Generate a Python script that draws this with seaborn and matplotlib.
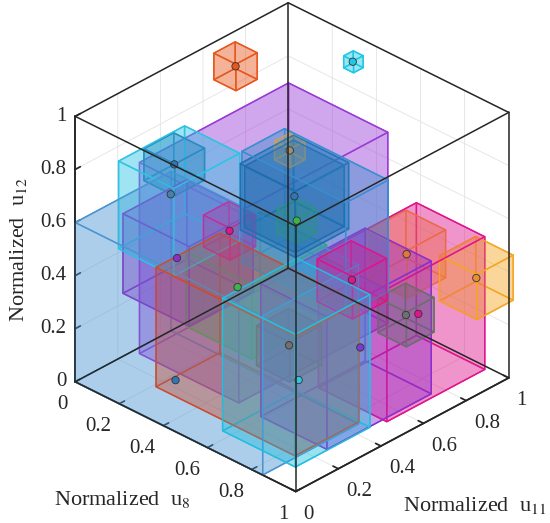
import matplotlib
matplotlib.use('Agg')
import matplotlib.pyplot as plt
import seaborn as sns
from mpl_toolkits.mplot3d.art3d import Poly3DCollection

# Box bounds (normalized u8, u11, u12)
box_x0 = [0.03, 0.35, 0.07, 0.10, 0.05, 0.12, 0.27, 0.26, 0.525, 0.43, 0.42, 0.455, 0.35, 0.37, 0.00, 0.62, 0.60, 0.62, 0.74, 0.64, 0.855, 0.855, 0.605]
box_x1 = [0.13, 0.395, 0.21, 0.35, 0.50, 0.42, 0.90, 0.56, 0.615, 0.66, 0.67, 0.525, 0.47, 0.84, 0.85, 0.95, 0.90, 0.93, 0.90, 0.82, 1.025, 0.985, 0.755]
box_y0 = [0.62, 0.898, 0.25, 0.10, 0.25, 0.10, 0.10, 0.25, 0.405, 0.35, 0.34, 0.465, 0.24, 0.40, 0.00, 0.05, 0.25, 0.50, 0.37, 0.71, 0.825, 0.535, 0.225]
box_y1 = [0.72, 0.943, 0.39, 0.41, 0.95, 0.40, 0.40, 0.60, 0.495, 0.58, 0.59, 0.535, 0.36, 0.60, 0.45, 0.40, 0.74, 0.96, 0.53, 0.89, 0.995, 0.665, 0.375]
box_z0 = [0.885, 0.943, 0.68, 0.50, 0.02, 0.34, 0.05, 0.21, 0.605, 0.61, 0.60, 0.825, 0.55, 0.43, 0.00, 0.05, 0.01, 0.02, 0.45, 0.35, 0.305, 0.31, 0.215]
box_z1 = [0.985, 0.988, 0.80, 0.83, 0.74, 0.64, 0.50, 0.49, 0.695, 0.84, 0.85, 0.895, 0.67, 0.85, 0.60, 0.55, 0.51, 0.52, 0.61, 0.53, 0.475, 0.44, 0.365]
box_colors = ['#e8561c', '#1ec8e6', '#2a78b8', '#2ec4e4', '#9a3bd6', '#8a2fc8', '#d24a2a', '#3cb44b',
              '#3cb44b', '#1f6fb0', '#1f6fb0', '#f2a93b', '#e0148c', '#3a8fd0', '#4a95d2', '#22c0e0',
              '#8a2fd0', '#e0148c', '#e0148c', '#f08a3a', '#f5a623', '#6e6e6e', '#6e6e6e']

# Centre points
pt_x = [0.08, 0.37, 0.14, 0.24, 0.22, 0.41, 0.49, 0.545, 0.57, 0.35, 0.31, 0.82, 0.73, 0.94, 0.92, 0.88, 0.81, 0.68, 0.82]
pt_y = [0.67, 0.92, 0.32, 0.20, 0.25, 0.30, 0.50, 0.465, 0.45, 0.40, 0.15, 0.45, 0.80, 0.91, 0.60, 0.70, 0.50, 0.30, 0.20]
pt_z = [0.935, 0.965, 0.74, 0.72, 0.45, 0.61, 0.86, 0.725, 0.65, 0.33, 0.07, 0.53, 0.44, 0.39, 0.375, 0.32, 0.25, 0.29, 0.26]
pt_colors = ['#e8561c', '#1ec8e6', '#2a78b8', '#4a7fa8', '#8a2fc8', '#e0148c', '#a09070', '#2a78b8', '#3cb44b',
             '#3cb44b', '#2a78b8', '#e0148c', '#e07a3a', '#e8902a', '#707070', '#e0148c', '#7a3ad0', '#707070', '#2ec4e4']

ticks = [0, 0.2, 0.4, 0.6, 0.8, 1]
tick_labels = ['0', '0.2', '0.4', '0.6', '0.8', '1']

sns.set_theme(style='white')
plt.rcParams['font.family'] = ['Liberation Serif', 'DejaVu Serif']
plt.rcParams['mathtext.fontset'] = 'stix'

fig = plt.figure(figsize=(5.5, 5.23), dpi=100)
ax = fig.add_axes([0.018, 0.014, 1, 1], projection='3d')
ax.set_proj_type('ortho')
ax.view_init(elev=31, azim=-46)
ax.set_box_aspect((1, 1, 1.01), zoom=0.989)
ax.computed_zorder = False

faces, fcols, ecols = [], [], []
for x0, x1, y0, y1, z0, z1, c in zip(box_x0, box_x1, box_y0, box_y1, box_z0, box_z1, box_colors):
    v = [(x0, y0, z0), (x1, y0, z0), (x1, y1, z0), (x0, y1, z0),
         (x0, y0, z1), (x1, y0, z1), (x1, y1, z1), (x0, y1, z1)]
    for idx in [(0, 1, 2, 3), (4, 5, 6, 7), (0, 1, 5, 4), (1, 2, 6, 5), (2, 3, 7, 6), (3, 0, 4, 7)]:
        faces.append([v[i] for i in idx])
        fcols.append(matplotlib.colors.to_rgba(c, 0.26))
        ecols.append(matplotlib.colors.to_rgba(c, 0.95))
poly = Poly3DCollection(faces, facecolors=fcols, edgecolors=ecols, linewidths=1.0, zorder=1)
ax.add_collection3d(poly)

ax.scatter(pt_x, pt_y, pt_z, c=pt_colors, s=28, edgecolors='#333333', linewidths=0.6,
           depthshade=False, zorder=3)

# full box frame
for a in (0, 1):
    for b in (0, 1):
        ax.plot([0, 1], [a, a], [b, b], color='#262626', lw=1.1, zorder=4)
        ax.plot([a, a], [0, 1], [b, b], color='#262626', lw=1.1, zorder=4)
        ax.plot([a, a], [b, b], [0, 1], color='#262626', lw=1.1, zorder=4)

ax.set_xlim(0, 1)
ax.set_ylim(0, 1)
ax.set_zlim(0, 1)
ax.set_xticks(ticks)
ax.set_yticks(ticks)
ax.set_zticks(ticks)
ax.set_xticklabels(tick_labels, ha='right')
ax.set_yticklabels(tick_labels, ha='left')
ax.set_zticklabels(tick_labels, ha='right', va='center')
ax.zaxis.set_ticks_position('lower')
ax.tick_params(labelsize=15)
ax.xaxis.set_tick_params(pad=-1)
ax.yaxis.set_tick_params(pad=-1)
ax.zaxis.set_tick_params(pad=-4)
for axis in (ax.xaxis, ax.yaxis, ax.zaxis):
    axis.set_pane_color((1, 1, 1, 1))
    axis._axinfo['grid']['color'] = '#e3e3e3'
    axis._axinfo['grid']['linewidth'] = 0.6
    axis._axinfo['tick']['inward_factor'] = 0.0
    axis._axinfo['tick']['outward_factor'] = 0.3

fig.text(0.222, 0.044, 'Normalized  u$_{8}$', fontsize=16, ha='center', va='center')
fig.text(0.864, 0.034, 'Normalized  u$_{11}$', fontsize=16, ha='center', va='center')
fig.text(0.033, 0.522, 'Normalized  u$_{12}$', fontsize=16, ha='center', va='center', rotation=90)

fig.savefig('out.png', dpi=100)
